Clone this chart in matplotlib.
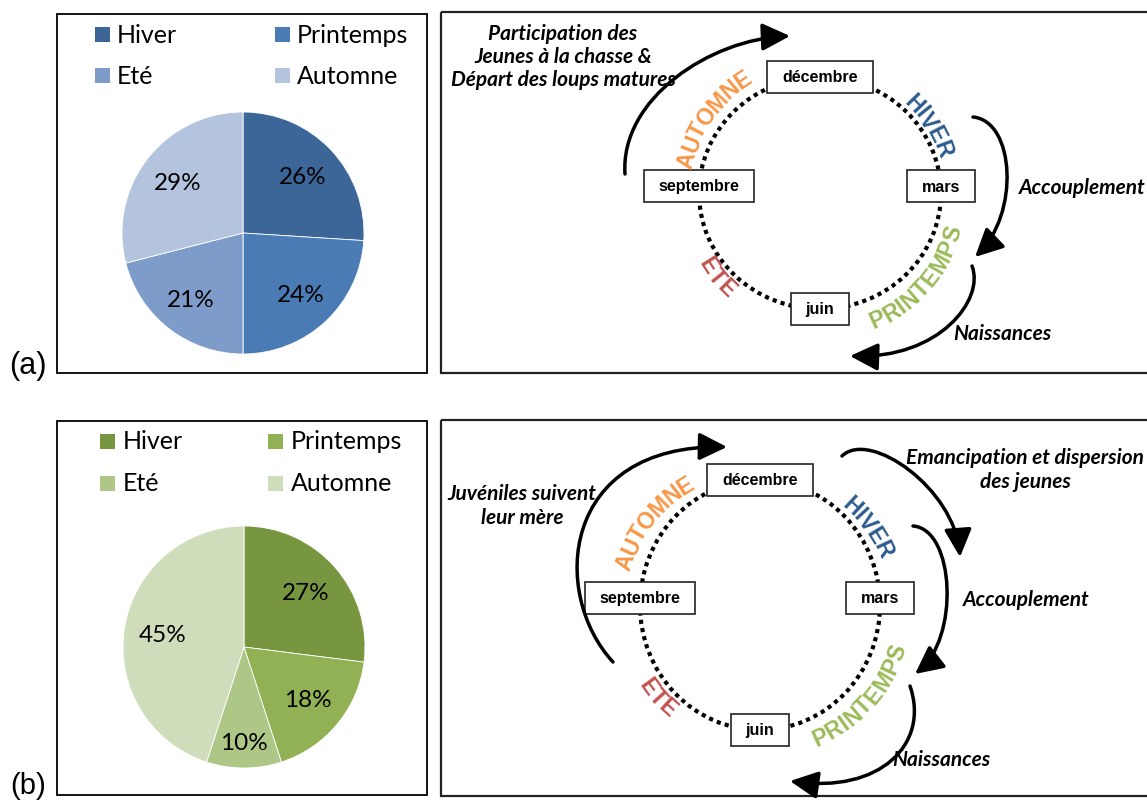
import numpy as np
import matplotlib
matplotlib.use("Agg")
import matplotlib.pyplot as plt
from matplotlib.patches import Rectangle, Ellipse, FancyArrowPatch
from matplotlib.path import Path
from matplotlib.font_manager import FontProperties

W, H = 1147, 804

# pie data: share of each season (%)
seasons = ["Hiver", "Printemps", "Eté", "Automne"]
share_a = [26, 24, 21, 29]
share_b = [27, 18, 10, 45]
colors_a = ["#3D6698", "#4A7BB5", "#7E9CC9", "#B5C4DE"]
colors_b = ["#789540", "#92B155", "#AFC786", "#D0DDBB"]

# annual cycle
months = ["décembre", "mars", "juin", "septembre"]
month_angles = [90, 0, 270, 180]
ring_words = ["HIVER", "PRINTEMPS", "ETE", "AUTOMNE"]
ring_colors = ["#2B5A8E", "#9BBB59", "#C0504D", "#F79646"]
ring_cw = [True, False, False, True]

events_a = ["Participation des\nJeunes à la chasse &\nDépart des loups matures",
            "Accouplement", "Naissances"]
events_b = ["Juvéniles suivent\nleur mère", "Emancipation et dispersion\ndes jeunes",
            "Accouplement", "Naissances"]

fig = plt.figure(figsize=(W / 100, H / 100), dpi=100)
bg = fig.add_axes([0, 0, 1, 1])
bg.set_xlim(0, W)
bg.set_ylim(H, 0)
bg.axis("off")
renderer = fig.canvas.get_renderer()

legend_fp = FontProperties(family="Lato", size=18)
pct_fp = FontProperties(family="Lato", size=17.5)
month_fp = FontProperties(family="Liberation Sans", weight="bold", size=11.5)
ring_fp = FontProperties(family="Liberation Sans", weight="bold", size=16.5)
event_fp = FontProperties(family="Lato", weight="bold", style="italic", size=15)


def text_width(s, fp):
    t = bg.text(0, 0, s, fontproperties=fp)
    w = t.get_window_extent(renderer).width
    t.remove()
    return w


def pie_panel(box, cx, cy, r, values, colors, label_r, leg):
    bg.add_patch(Rectangle(box[:2], box[2], box[3], fill=False, ec="black", lw=1.3))
    pax = fig.add_axes([(cx - r) / W, (H - cy - r) / H, 2 * r / W, 2 * r / H])
    pax.pie(values, colors=colors, startangle=90, counterclock=False, radius=1,
            wedgeprops=dict(edgecolor="white", linewidth=0.6))
    pax.set_xlim(-1, 1)
    pax.set_ylim(-1, 1)
    total = sum(values)
    start = 90.0
    for v, f in zip(values, label_r):
        mid = np.radians(start - v / total * 180)
        start -= v / total * 360
        pax.text(f * np.cos(mid), f * np.sin(mid), f"{v}%", ha="center", va="center",
                 fontproperties=pct_fp)
    x0, y0, dx, dy, gap = leg
    for i, (name, col) in enumerate(zip(seasons, colors)):
        x = x0 + (i % 2) * dx
        y = y0 + (i // 2) * dy
        bg.add_patch(Rectangle((x, y - 7.5), 15, 15, color=col, lw=0))
        bg.text(x + gap, y, name, va="center", fontproperties=legend_fp)


def curved_word(cx, cy, word, color, r, mid, cw):
    widths = [text_width(ch, ring_fp) for ch in word]
    total = sum(widths)
    sign = -1 if cw else 1
    theta0 = np.radians(mid) - sign * total / 2 / r
    acc = 0.0
    for ch, w in zip(word, widths):
        th = theta0 + sign * (acc + w / 2) / r
        acc += w
        rot = np.degrees(th) - 90 if cw else np.degrees(th) + 90
        bg.text(cx + r * np.cos(th), cy - r * np.sin(th), ch, color=color,
                rotation=rot, rotation_mode="anchor", ha="center", va="center",
                fontproperties=ring_fp, zorder=4)


def arrow(pts):
    path = Path(pts, [Path.MOVETO, Path.CURVE4, Path.CURVE4, Path.CURVE4])
    bg.add_patch(FancyArrowPatch(path=path, arrowstyle="-|>,head_length=0.85,head_width=0.42",
                                 mutation_scale=20, lw=2.5, color="black", zorder=5))


def cycle_panel(box, cx, cy, rx, ry, lift, word_r, word_mid, arrows, labels):
    bg.add_patch(Rectangle(box[:2], box[2], box[3], fill=False, ec="#222222", lw=1.6))
    bg.add_patch(Ellipse((cx, cy), 2 * rx, 2 * ry, fill=False, ec="black", lw=3,
                         ls=(0, (1, 1)), zorder=2))
    for name, ang in zip(months, month_angles):
        a = np.radians(ang)
        x = cx + rx * np.cos(a)
        y = cy - ry * np.sin(a) - (lift if ang in (0, 180) else 0)
        w = text_width(name, month_fp) + 30
        bg.add_patch(Rectangle((x - w / 2, y - 16), w, 32, fc="white", ec="#222222",
                               lw=1.2, zorder=3))
        bg.text(x, y, name, ha="center", va="center", fontproperties=month_fp, zorder=4)
    for word, col, rr, mid, cw in zip(ring_words, ring_colors, word_r, word_mid, ring_cw):
        curved_word(cx, cy, word, col, rr, mid, cw)
    for pts in arrows:
        arrow(pts)
    for (x, y, ha), s in labels:
        bg.text(x, y, s, ha=ha, va="center", multialignment="center",
                linespacing=1.2, fontproperties=event_fp, zorder=4)


# (a)
pie_panel((57, 15, 370, 359), 243, 234, 121, share_a, colors_a,
          [0.68, 0.70, 0.70, 0.68], (95, 35.5, 180, 40.5, 22))
cycle_panel((441, 13, 720, 361), 820, 194, 121, 116, 7,
            [130, 139, 133, 137], [32, -41, 219, 145],
            [[(625, 175), (620, 100), (710, 40), (790, 37)],
             [(973, 118), (1015, 122), (1020, 215), (975, 258)],
             [(972, 267), (985, 300), (940, 360), (850, 357)]],
            list(zip([(563, 57, "center"), (1019, 188, "left"), (1002, 334, "center")],
                     events_a)))

# (b)
pie_panel((57, 422, 370, 374), 244, 648, 121, share_b, colors_b,
          [0.68, 0.68, 0.79, 0.68], (100, 442, 168, 42, 23))
cycle_panel((441, 421, 720, 376), 760, 606, 120, 125, 7,
            [135, 145, 138, 141], [36, -42, 222, 142],
            [[(613, 663), (550, 595), (560, 445), (727, 448)],
             [(842, 457), (870, 430), (955, 490), (960, 558)],
             [(913, 527), (955, 530), (960, 640), (915, 675)],
             [(910, 687), (930, 745), (880, 795), (790, 782)]],
            list(zip([(522, 506, "center"), (1025, 470, "center"), (963, 600, "left"),
                      (941, 760, "center")], events_b)))

bg.text(28, 366, "(a)", ha="center", va="center", family="Liberation Sans", fontsize=22)
bg.text(28, 786, "(b)", ha="center", va="center", family="Liberation Sans", fontsize=21)

fig.savefig("out.png", dpi=100)
